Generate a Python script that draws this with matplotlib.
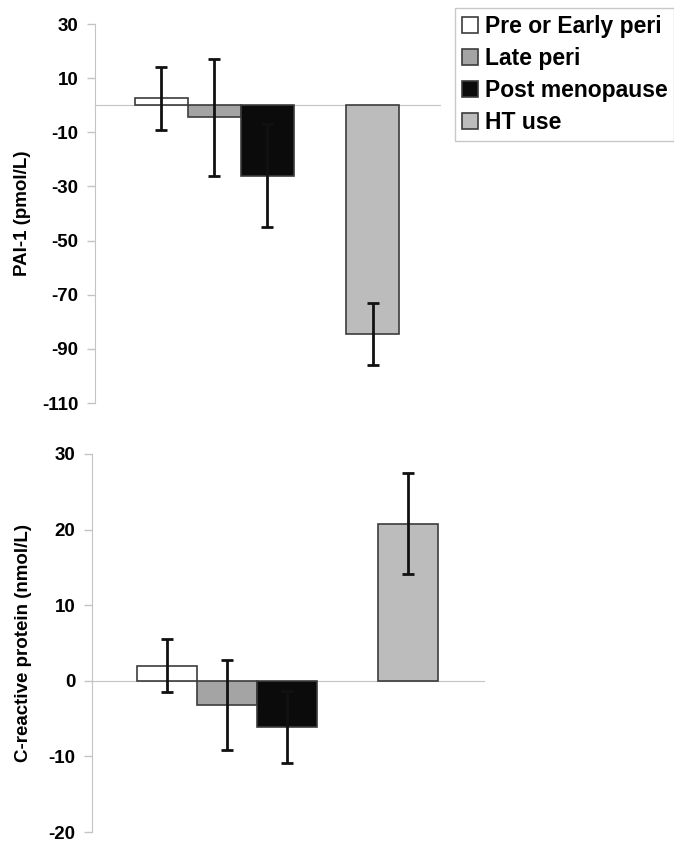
import matplotlib
matplotlib.use("Agg")
import matplotlib.pyplot as plt

plt.rcParams['font.family'] = ['Liberation Sans', 'DejaVu Sans']
plt.rcParams['font.weight'] = 'bold'

# groups and values
groups = ['Pre or Early peri', 'Late peri', 'Post menopause', 'HT use']
x_pos = [0, 1, 2, 4]

pai1_mean = [2.5, -4.5, -26.0, -84.5]
pai1_err = [11.5, 21.5, 19.0, 11.6]
pai1_ticks = [30, 10, -10, -30, -50, -70, -90, -110]

crp_mean = [2.0, -3.2, -6.1, 20.8]
crp_err = [3.5, 5.9, 4.8, 6.7]
crp_ticks = [30, 20, 10, 0, -10, -20]

colors = ['white', '#a4a4a4', '#0b0b0b', '#bcbcbc']
edge = '#3c3c3c'
axis_grey = '#c4c4c4'

fig = plt.figure(figsize=(6.74, 8.44), dpi=100)
ax1 = fig.add_axes([0.141, 0.5225, 0.512, 0.449])
ax2 = fig.add_axes([0.1365, 0.0142, 0.5816, 0.4479])


def draw_panel(ax, means, errs, ticks, ylim, ylabel, label_x):
    bars = ax.bar(x_pos, means, width=1.0, color=colors, edgecolor=edge,
                  linewidth=1.2, zorder=2)
    ax.errorbar(x_pos, means, yerr=errs, fmt='none', ecolor='#111111',
                elinewidth=2, capsize=4, capthick=2, zorder=3)
    ax.set_xlim(-1.25, 5.27)
    ax.set_ylim(*ylim)
    ax.set_yticks(ticks)
    ax.set_yticklabels([str(t) for t in ticks], fontsize=13.5, fontweight='bold')
    ax.tick_params(axis='y', direction='out', length=6, width=1,
                   color=axis_grey, pad=6)
    ax.set_xticks([])
    for s in ['top', 'right']:
        ax.spines[s].set_visible(False)
    ax.spines['left'].set_color(axis_grey)
    ax.spines['bottom'].set_color(axis_grey)
    ax.spines['bottom'].set_position(('data', 0))
    ax.spines['bottom'].set_zorder(1)
    ax.set_ylabel(ylabel, fontsize=13.5, fontweight='bold')
    ax.yaxis.set_label_coords(label_x, 0.5)
    return bars


bars = draw_panel(ax1, pai1_mean, pai1_err, pai1_ticks, (-110, 30),
                  'PAI-1 (pmol/L)', -0.187)
draw_panel(ax2, crp_mean, crp_err, crp_ticks, (-20, 30),
           'C-reactive protein (nmol/L)', -0.154)

leg = fig.legend(bars, groups, loc='upper left',
                 bbox_to_anchor=(455 / 674, 1 - 8 / 844),
                 prop={'size': 16.5, 'weight': 'bold'},
                 handlelength=0.7, handleheight=0.7, handletextpad=0.3,
                 labelspacing=0.4, borderpad=0.3, borderaxespad=0,
                 fancybox=False, framealpha=1)
leg.get_frame().set_edgecolor('#c8c8c8')
leg.get_frame().set_linewidth(1.0)

fig.savefig('out.png', dpi=100)
